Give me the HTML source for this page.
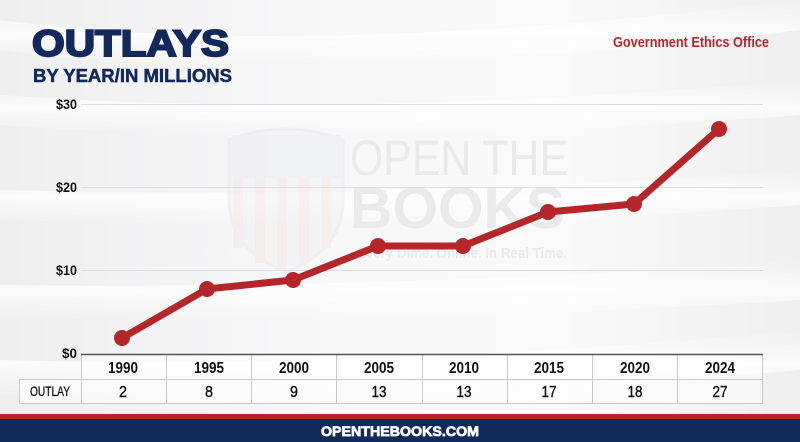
<!DOCTYPE html>
<html><head><meta charset="utf-8">
<style>
html,body{margin:0;padding:0;}
body{width:800px;height:442px;overflow:hidden;background:#f3f3f4;font-family:"Liberation Sans",sans-serif;}
svg{display:block;}
</style></head>
<body>
<svg width="800" height="442" viewBox="0 0 800 442" xmlns="http://www.w3.org/2000/svg">
<defs>
<linearGradient id="bg" x1="0" y1="0" x2="1" y2="0">
<stop offset="0" stop-color="#eeeeef"/>
<stop offset="0.35" stop-color="#f7f7f8"/>
<stop offset="0.7" stop-color="#fafafa"/>
<stop offset="1" stop-color="#efeff0"/>
</linearGradient>
<linearGradient id="band" x1="0" y1="0" x2="0" y2="1">
<stop offset="0" stop-color="#ffffff" stop-opacity="0"/>
<stop offset="0.5" stop-color="#ffffff" stop-opacity="0.8"/>
<stop offset="1" stop-color="#ffffff" stop-opacity="0"/>
</linearGradient>
</defs>
<rect x="0" y="0" width="800" height="442" fill="url(#bg)"/>
<path d="M0 20 Q300 60 800 0 L800 30 Q300 90 0 50Z" fill="url(#band)"/>
<path d="M0 95 Q350 120 800 80 L800 115 Q350 150 0 125Z" fill="url(#band)"/>
<path d="M0 190 Q400 200 800 170 L800 205 Q400 235 0 220Z" fill="url(#band)"/>
<path d="M0 285 Q400 290 800 260 L800 300 Q400 325 0 318Z" fill="url(#band)"/>
<path d="M0 360 Q400 370 800 330 L800 370 Q400 405 0 395Z" fill="url(#band)"/>

<!-- watermark -->
<g opacity="0.45">
<path d="M229 140 Q285 118 343 140 L343 200 Q343 250 286 272 Q229 250 229 200Z" fill="#f1f1f3" stroke="#e6e6ea" stroke-width="3"/>
<rect x="233" y="178" width="10" height="70" fill="#f3e3e1"/>
<rect x="255" y="178" width="10" height="85" fill="#f3e3e1"/>
<rect x="277" y="178" width="10" height="92" fill="#f3e3e1"/>
<rect x="299" y="178" width="10" height="85" fill="#f3e3e1"/>
<rect x="321" y="178" width="10" height="70" fill="#f3e3e1"/>
<rect x="232" y="135" width="109" height="43" fill="#e9eaef"/>
</g>
<g fill="#eaeaea" font-family="Liberation Sans, sans-serif">
<text x="350" y="175" font-size="50" textLength="218" lengthAdjust="spacingAndGlyphs">OPEN THE</text>
<text x="350" y="228" font-size="58" font-weight="bold" textLength="215" lengthAdjust="spacingAndGlyphs">BOOKS</text>
<text x="357" y="258" font-size="15" font-weight="bold" textLength="210" lengthAdjust="spacingAndGlyphs">Every Dime. Online. In Real Time.</text>
</g>

<!-- title -->
<text x="32" y="56" font-size="37" font-weight="bold" fill="#13295b" stroke="#13295b" stroke-width="2" textLength="197" lengthAdjust="spacingAndGlyphs">OUTLAYS</text>
<text x="33" y="82" font-size="18" font-weight="bold" fill="#13295b" stroke="#13295b" stroke-width="0.5" textLength="199" lengthAdjust="spacingAndGlyphs">BY YEAR/IN MILLIONS</text>
<text x="613" y="47" font-size="15" font-weight="bold" fill="#b5262a" textLength="156" lengthAdjust="spacingAndGlyphs">Government Ethics Office</text>

<!-- gridlines -->
<g stroke="#dcdcde" stroke-width="1">
<line x1="81" y1="104.5" x2="763" y2="104.5"/>
<line x1="81" y1="187.5" x2="763" y2="187.5"/>
<line x1="81" y1="270.5" x2="763" y2="270.5"/>
</g>
<g font-size="13.5" font-weight="bold" fill="#111" text-anchor="end">
<text x="77" y="109" textLength="21" lengthAdjust="spacingAndGlyphs">$30</text>
<text x="77" y="192" textLength="21" lengthAdjust="spacingAndGlyphs">$20</text>
<text x="77" y="275" textLength="21" lengthAdjust="spacingAndGlyphs">$10</text>
<text x="77" y="358" textLength="15" lengthAdjust="spacingAndGlyphs">$0</text>
</g>

<!-- line -->
<polyline points="122,338 207,289 293,280 378,246 463,246 548,212 634,204 719,129" fill="none" stroke="#b5262a" stroke-width="7" stroke-linejoin="round" stroke-linecap="round"/>
<g fill="#b5262a">
<circle cx="122" cy="338" r="8"/>
<circle cx="207" cy="289" r="8"/>
<circle cx="293" cy="280" r="8"/>
<circle cx="378" cy="246" r="8"/>
<circle cx="463" cy="246" r="8"/>
<circle cx="548" cy="212" r="8"/>
<circle cx="634" cy="204" r="8"/>
<circle cx="719" cy="129" r="8"/>
</g>

<!-- table -->
<rect x="81" y="354" width="682" height="49" fill="#ffffff" fill-opacity="0.55"/>
<rect x="19" y="379" width="62" height="24" fill="#ffffff" fill-opacity="0.55"/>
<g stroke="#c9c9cb" stroke-width="1" fill="none">
<line x1="19" y1="379.5" x2="763" y2="379.5"/>
<line x1="19" y1="403.5" x2="763" y2="403.5"/>
<line x1="19.5" y1="379" x2="19.5" y2="403"/>
<line x1="81.5" y1="354" x2="81.5" y2="403"/>
<line x1="166.5" y1="354" x2="166.5" y2="403"/>
<line x1="251.5" y1="354" x2="251.5" y2="403"/>
<line x1="336.5" y1="354" x2="336.5" y2="403"/>
<line x1="422.5" y1="354" x2="422.5" y2="403"/>
<line x1="507.5" y1="354" x2="507.5" y2="403"/>
<line x1="592.5" y1="354" x2="592.5" y2="403"/>
<line x1="677.5" y1="354" x2="677.5" y2="403"/>
<line x1="762.5" y1="354" x2="762.5" y2="403"/>
</g>
<line x1="81" y1="354.5" x2="763" y2="354.5" stroke="#555" stroke-width="1.5"/>
<g font-size="16" font-weight="bold" fill="#111" text-anchor="middle">
<text x="123" y="373" textLength="30" lengthAdjust="spacingAndGlyphs">1990</text>
<text x="209" y="373" textLength="30" lengthAdjust="spacingAndGlyphs">1995</text>
<text x="294" y="373" textLength="30" lengthAdjust="spacingAndGlyphs">2000</text>
<text x="379" y="373" textLength="30" lengthAdjust="spacingAndGlyphs">2005</text>
<text x="464" y="373" textLength="30" lengthAdjust="spacingAndGlyphs">2010</text>
<text x="549" y="373" textLength="30" lengthAdjust="spacingAndGlyphs">2015</text>
<text x="635" y="373" textLength="30" lengthAdjust="spacingAndGlyphs">2020</text>
<text x="720" y="373" textLength="30" lengthAdjust="spacingAndGlyphs">2024</text>
</g>
<g font-size="16" fill="#111" text-anchor="middle" stroke="#111" stroke-width="0.4">
<text x="123" y="397" textLength="8" lengthAdjust="spacingAndGlyphs">2</text>
<text x="209" y="397" textLength="8" lengthAdjust="spacingAndGlyphs">8</text>
<text x="294" y="397" textLength="8" lengthAdjust="spacingAndGlyphs">9</text>
<text x="379" y="397" textLength="15" lengthAdjust="spacingAndGlyphs">13</text>
<text x="464" y="397" textLength="15" lengthAdjust="spacingAndGlyphs">13</text>
<text x="549" y="397" textLength="15" lengthAdjust="spacingAndGlyphs">17</text>
<text x="635" y="397" textLength="15" lengthAdjust="spacingAndGlyphs">18</text>
<text x="720" y="397" textLength="15" lengthAdjust="spacingAndGlyphs">27</text>
</g>
<text x="50" y="396" font-size="14" fill="#111" stroke="#111" stroke-width="0.3" text-anchor="middle" textLength="40" lengthAdjust="spacingAndGlyphs">OUTLAY</text>

<!-- footer -->
<rect x="0" y="414" width="800" height="6" fill="#b5262a"/>
<rect x="0" y="419" width="800" height="23" fill="#102a5c"/>
<text x="400" y="436" font-size="13.5" font-weight="bold" fill="#ffffff" stroke="#ffffff" stroke-width="0.7" text-anchor="middle" textLength="158" lengthAdjust="spacingAndGlyphs">OPENTHEBOOKS.COM</text>
</svg>
</body></html>
